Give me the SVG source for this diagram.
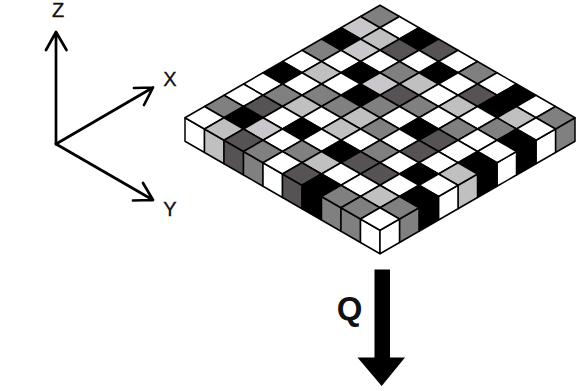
<svg xmlns="http://www.w3.org/2000/svg" xmlns:xlink="http://www.w3.org/1999/xlink" width="581" height="391" viewBox="0 0 581 391">
<style>
.w{fill:#fff}.l{fill:#c0c0c0}.p{fill:#c9c7cb}.m{fill:#808080}.d{fill:#575253}.k{fill:#000}
.cell{stroke:#000;stroke-width:1.5;stroke-linejoin:round}
.ax{fill:none;stroke:#000;stroke-width:2.7;stroke-linecap:round;stroke-linejoin:round}
.lab{font-family:"Liberation Sans",Arial,sans-serif;font-size:20px;fill:#111;stroke:#111;stroke-width:.35;text-anchor:middle}
</style>
<defs>
<polygon id="t" class="cell" points="0,-11.25 19.5,0 0,11.25 -19.5,0"/>
<polygon id="sl" class="cell" points="-19.5,0 0,11.25 0,34.75 -19.5,23.5"/>
<polygon id="sr" class="cell" points="19.5,0 0,11.25 0,34.75 19.5,23.5"/>
</defs>
<g id="plate">
<g id="left-side">
<use href="#sl" x="204.5" y="117.75" class="w"/><use href="#sl" x="224" y="129" class="l"/><use href="#sl" x="243.5" y="140.25" class="d"/><use href="#sl" x="263" y="151.5" class="m"/><use href="#sl" x="282.5" y="162.75" class="w"/><use href="#sl" x="302" y="174" class="d"/><use href="#sl" x="321.5" y="185.25" class="k"/><use href="#sl" x="341" y="196.5" class="m"/><use href="#sl" x="360.5" y="207.75" class="m"/><use href="#sl" x="380" y="219" class="w"/>
</g>
<g id="right-side">
<use href="#sr" x="555.5" y="117.75" class="m"/><use href="#sr" x="536" y="129" class="w"/><use href="#sr" x="516.5" y="140.25" class="k"/><use href="#sr" x="497" y="151.5" class="w"/><use href="#sr" x="477.5" y="162.75" class="k"/><use href="#sr" x="458" y="174" class="l"/><use href="#sr" x="438.5" y="185.25" class="w"/><use href="#sr" x="419" y="196.5" class="k"/><use href="#sr" x="399.5" y="207.75" class="m"/><use href="#sr" x="380" y="219" class="w"/>
</g>
<g id="top-face">
<use href="#t" x="380" y="16.5" class="m"/>
<use href="#t" x="360.5" y="27.75" class="p"/><use href="#t" x="399.5" y="27.75" class="w"/>
<use href="#t" x="341" y="39" class="k"/><use href="#t" x="380" y="39" class="l"/><use href="#t" x="419" y="39" class="k"/>
<use href="#t" x="321.5" y="50.25" class="m"/><use href="#t" x="360.5" y="50.25" class="p"/><use href="#t" x="399.5" y="50.25" class="d"/><use href="#t" x="438.5" y="50.25" class="d"/>
<use href="#t" x="302" y="61.5" class="w"/><use href="#t" x="341" y="61.5" class="w"/><use href="#t" x="380" y="61.5" class="w"/><use href="#t" x="419" y="61.5" class="w"/><use href="#t" x="458" y="61.5" class="w"/>
<use href="#t" x="282.5" y="72.75" class="k"/><use href="#t" x="321.5" y="72.75" class="l"/><use href="#t" x="360.5" y="72.75" class="k"/><use href="#t" x="399.5" y="72.75" class="m"/><use href="#t" x="438.5" y="72.75" class="k"/><use href="#t" x="477.5" y="72.75" class="m"/>
<use href="#t" x="263" y="84" class="w"/><use href="#t" x="302" y="84" class="w"/><use href="#t" x="341" y="84" class="w"/><use href="#t" x="380" y="84" class="p"/><use href="#t" x="419" y="84" class="l"/><use href="#t" x="458" y="84" class="w"/><use href="#t" x="497" y="84" class="w"/>
<use href="#t" x="243.5" y="95.25" class="w"/><use href="#t" x="282.5" y="95.25" class="m"/><use href="#t" x="321.5" y="95.25" class="m"/><use href="#t" x="360.5" y="95.25" class="k"/><use href="#t" x="399.5" y="95.25" class="d"/><use href="#t" x="438.5" y="95.25" class="w"/><use href="#t" x="477.5" y="95.25" class="d"/><use href="#t" x="516.5" y="95.25" class="k"/>
<use href="#t" x="224" y="106.5" class="m"/><use href="#t" x="263" y="106.5" class="d"/><use href="#t" x="302" y="106.5" class="l"/><use href="#t" x="341" y="106.5" class="m"/><use href="#t" x="380" y="106.5" class="m"/><use href="#t" x="419" y="106.5" class="m"/><use href="#t" x="458" y="106.5" class="l"/><use href="#t" x="497" y="106.5" class="k"/><use href="#t" x="536" y="106.5" class="w"/>
<use href="#t" x="204.5" y="117.75" class="w"/><use href="#t" x="243.5" y="117.75" class="k"/><use href="#t" x="282.5" y="117.75" class="w"/><use href="#t" x="321.5" y="117.75" class="w"/><use href="#t" x="360.5" y="117.75" class="l"/><use href="#t" x="399.5" y="117.75" class="w"/><use href="#t" x="438.5" y="117.75" class="w"/><use href="#t" x="477.5" y="117.75" class="w"/><use href="#t" x="516.5" y="117.75" class="l"/><use href="#t" x="555.5" y="117.75" class="m"/>
<use href="#t" x="224" y="129" class="l"/><use href="#t" x="263" y="129" class="p"/><use href="#t" x="302" y="129" class="k"/><use href="#t" x="341" y="129" class="l"/><use href="#t" x="380" y="129" class="m"/><use href="#t" x="419" y="129" class="k"/><use href="#t" x="458" y="129" class="m"/><use href="#t" x="497" y="129" class="m"/><use href="#t" x="536" y="129" class="w"/>
<use href="#t" x="243.5" y="140.25" class="d"/><use href="#t" x="282.5" y="140.25" class="w"/><use href="#t" x="321.5" y="140.25" class="w"/><use href="#t" x="360.5" y="140.25" class="w"/><use href="#t" x="399.5" y="140.25" class="w"/><use href="#t" x="438.5" y="140.25" class="d"/><use href="#t" x="477.5" y="140.25" class="w"/><use href="#t" x="516.5" y="140.25" class="k"/>
<use href="#t" x="263" y="151.5" class="m"/><use href="#t" x="302" y="151.5" class="m"/><use href="#t" x="341" y="151.5" class="k"/><use href="#t" x="380" y="151.5" class="m"/><use href="#t" x="419" y="151.5" class="d"/><use href="#t" x="458" y="151.5" class="w"/><use href="#t" x="497" y="151.5" class="w"/>
<use href="#t" x="282.5" y="162.75" class="w"/><use href="#t" x="321.5" y="162.75" class="l"/><use href="#t" x="360.5" y="162.75" class="d"/><use href="#t" x="399.5" y="162.75" class="w"/><use href="#t" x="438.5" y="162.75" class="w"/><use href="#t" x="477.5" y="162.75" class="k"/>
<use href="#t" x="302" y="174" class="d"/><use href="#t" x="341" y="174" class="w"/><use href="#t" x="380" y="174" class="d"/><use href="#t" x="419" y="174" class="k"/><use href="#t" x="458" y="174" class="l"/>
<use href="#t" x="321.5" y="185.25" class="k"/><use href="#t" x="360.5" y="185.25" class="w"/><use href="#t" x="399.5" y="185.25" class="w"/><use href="#t" x="438.5" y="185.25" class="w"/>
<use href="#t" x="341" y="196.5" class="m"/><use href="#t" x="380" y="196.5" class="l"/><use href="#t" x="419" y="196.5" class="k"/>
<use href="#t" x="360.5" y="207.75" class="m"/><use href="#t" x="399.5" y="207.75" class="m"/>
<use href="#t" x="380" y="219" class="w"/>
</g>
</g>
<g id="axes">
<path class="ax" d="M56,144V33M46,50L56,32L66.500,50"/>
<path class="ax" d="M56,144L153,87.500M134,88L153,87.500L144,105"/>
<path class="ax" d="M56,144L153,200M133,200.500L153,200L143,183"/>
<text class="lab" x="58" y="16.500">Z</text>
<text class="lab" x="170" y="86">X</text>
<text class="lab" x="170" y="216">Y</text>
</g>
<g id="flow">
<polygon fill="#000" points="374.500,269.500 390,269.500 390,357.500 405,357.500 381.700,386 357.500,357.500 374.500,357.500"/>
<text x="349.500" y="320" font-family="'Liberation Sans',Arial,sans-serif" font-size="33" font-weight="bold" text-anchor="middle" fill="#111">Q</text>
</g>
</svg>
